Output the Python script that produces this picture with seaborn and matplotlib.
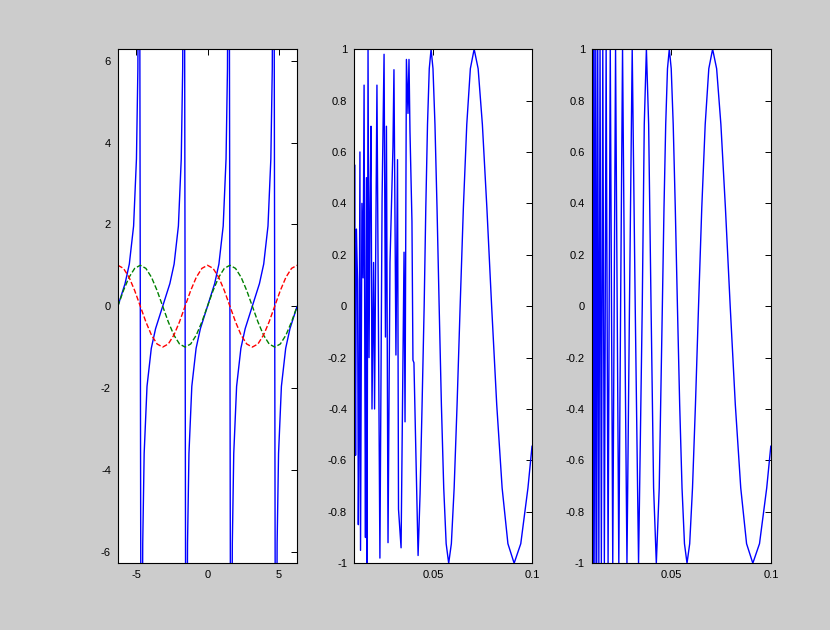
import numpy as np
import pandas as pd
import matplotlib
matplotlib.use("Agg")
import matplotlib.pyplot as plt
import seaborn as sns

# ---- left panel: tan, sin, cos on [-2pi, 2pi] ----
tan_x = [-6.283, -5.78, -5.48, -5.18, -4.98, -4.88, -4.78,
         -4.64, -4.54, -4.44, -4.24, -3.94, -3.64, -3.14, -2.64, -2.34, -2.04, -1.84, -1.74, -1.64,
         -1.50, -1.40, -1.30, -1.10, -0.80, -0.50, 0.0, 0.50, 0.80, 1.10, 1.30, 1.40, 1.50,
         1.64, 1.74, 1.84, 2.04, 2.34, 2.64, 3.14, 3.64, 3.94, 4.24, 4.44, 4.54, 4.64,
         4.78, 4.88, 4.98, 5.18, 5.48, 5.78, 6.283]
tan_y = [0.0, 0.55, 1.03, 1.96, 3.60, 5.80, 14.1,
         -14.1, -5.80, -3.60, -1.96, -1.03, -0.55, 0.0, 0.55, 1.03, 1.96, 3.60, 5.80, 14.1,
         -14.1, -5.80, -3.60, -1.96, -1.03, -0.55, 0.0, 0.55, 1.03, 1.96, 3.60, 5.80, 14.1,
         -14.1, -5.80, -3.60, -1.96, -1.03, -0.55, 0.0, 0.55, 1.03, 1.96, 3.60, 5.80, 14.1,
         -14.1, -5.80, -3.60, -1.96, -1.03, -0.55, 0.0]

trig_x = [-6.283, -5.890, -5.498, -5.105, -4.712, -4.320, -3.927, -3.534,
          -3.142, -2.749, -2.356, -1.963, -1.571, -1.178, -0.785, -0.393,
          0.0, 0.393, 0.785, 1.178, 1.571, 1.963, 2.356, 2.749,
          3.142, 3.534, 3.927, 4.320, 4.712, 5.105, 5.498, 5.890, 6.283]
sin_y = [0, .383, .707, .924, 1, .924, .707, .383, 0, -.383, -.707, -.924, -1, -.924, -.707, -.383,
         0, .383, .707, .924, 1, .924, .707, .383, 0, -.383, -.707, -.924, -1, -.924, -.707, -.383, 0]
cos_y = [1, .924, .707, .383, 0, -.383, -.707, -.924, -1, -.924, -.707, -.383, 0, .383, .707, .924,
         1, .924, .707, .383, 0, -.383, -.707, -.924, -1, -.924, -.707, -.383, 0, .383, .707, .924, 1]

# ---- middle panel: sin(1/x), coarse sampling (aliased on the left) ----
coarse_x = [0.0100, 0.0103, 0.0105, 0.0108, 0.0112, 0.0118, 0.0122, 0.0125, 0.0130, 0.0133,
            0.0140, 0.0146, 0.0151, 0.0155, 0.0158, 0.0163, 0.0166, 0.0171, 0.0176, 0.0181,
            0.0186, 0.0191, 0.0199, 0.0204, 0.0216, 0.0231, 0.0242, 0.0252, 0.0259,
            0.0264, 0.0272, 0.0282, 0.0297, 0.0302, 0.0312, 0.0320, 0.0325, 0.0338, 0.0353,
            0.0358, 0.0365, 0.0373, 0.0378, 0.0383, 0.0393, 0.0398, 0.0403, 0.0424, 0.0434,
            0.0444, 0.04547, 0.04630, 0.04716, 0.04805, 0.04897, 0.04993, 0.05093, 0.05197,
            0.05305, 0.05418, 0.05536, 0.05659, 0.05787, 0.05922, 0.06063, 0.06211, 0.06366,
            0.06529, 0.06701, 0.06882, 0.07074, 0.07276, 0.07490, 0.07717, 0.07958, 0.08215,
            0.08488, 0.08781, 0.09095, 0.09431, 0.09794, 0.1000]
coarse_y = [-0.51, 0.55, -0.06, -0.58, 0.30, 0.10, -0.85, -0.55, 0.60, -0.95,
            0.40, 0.11, 0.86, -0.30, -0.90, 0.50, -1.0, 1.0, -0.20, 0.40,
            0.70, -0.40, 0.17, -0.40, 0.86, -0.98, 0.42, 0.98, -0.12,
            0.70, -0.92, 0.17, 0.62, 0.92, -0.19, 0.57, -0.79, -0.94, 0.21,
            -0.45, 0.96, 0.75, 0.96, 0.68, 0.33, -0.21, -0.22, -0.97, -0.73,
            -0.39, 0.0, .383, .707, .924, 1, .924, .707, .383,
            0, -.383, -.707, -.924, -1, -.924, -.707, -.383, 0,
            .383, .707, .924, 1, .924, .707, .383, 0, -.383,
            -.707, -.924, -1, -.924, -.707, -0.544]

# ---- right panel: sin(1/x), fine sampling ----
fine_x = [0.0100, 0.01011, 0.01044, 0.01079, 0.01117, 0.01158, 0.01201, 0.01248, 0.01299,
          0.01355, 0.01415, 0.01481, 0.01553, 0.01632, 0.01721, 0.01819, 0.01929, 0.02054,
          0.02195, 0.02358, 0.02449, 0.02546, 0.02653, 0.02768, 0.02894, 0.03032, 0.03183,
          0.03351, 0.03537, 0.03638, 0.03745, 0.03858, 0.03979, 0.04107, 0.04244, 0.04390,
          0.04547, 0.04630, 0.04716, 0.04805, 0.04897, 0.04993, 0.05093, 0.05197,
          0.05305, 0.05418, 0.05536, 0.05659, 0.05787, 0.05922, 0.06063, 0.06211, 0.06366,
          0.06529, 0.06701, 0.06882, 0.07074, 0.07276, 0.07490, 0.07717, 0.07958, 0.08215,
          0.08488, 0.08781, 0.09095, 0.09431, 0.09794, 0.1000]
fine_y = [-0.506, -1, 1, -1, 1, -1, 1, -1, 1,
          -1, 1, -1, 1, -1, 1, -1, 1, -1,
          1, -1, 0, 1, 0, -1, 0, 1, 0,
          -1, 0, .707, 1, .707, 0, -.707, -1, -.707,
          0, .383, .707, .924, 1, .924, .707, .383,
          0, -.383, -.707, -.924, -1, -.924, -.707, -.383, 0,
          .383, .707, .924, 1, .924, .707, .383, 0, -.383,
          -.707, -.924, -1, -.924, -.707, -0.544]

sns.set_theme(style="white")
plt.rcParams['font.family'] = ['Liberation Sans', 'DejaVu Sans']
plt.rcParams.update({
    'xtick.direction': 'in', 'ytick.direction': 'in',
    'xtick.top': True, 'ytick.right': True,
    'xtick.major.size': 4, 'ytick.major.size': 4,
    'xtick.major.width': 0.7, 'ytick.major.width': 0.7,
    'xtick.color': 'black', 'ytick.color': 'black',
    'xtick.labelsize': 8, 'ytick.labelsize': 8,
    'axes.edgecolor': 'black', 'axes.linewidth': 0.8,
    'axes.unicode_minus': False,
})

fig = plt.figure(figsize=(8.3, 6.3), dpi=100, facecolor='#cccccc')
ax1 = fig.add_axes([0.142, 0.106, 0.216, 0.816])
ax2 = fig.add_axes([0.4265, 0.106, 0.2145, 0.816])
ax3 = fig.add_axes([0.713, 0.106, 0.2157, 0.816])

lw = 1.0
blue, green, red = '#0000ff', '#008000', '#ff0000'

sns.lineplot(x=tan_x, y=tan_y, ax=ax1, color=blue, lw=lw, sort=False, estimator=None)
sns.lineplot(x=trig_x, y=sin_y, ax=ax1, color=green, lw=lw, ls='--', sort=False, estimator=None)
sns.lineplot(x=trig_x, y=cos_y, ax=ax1, color=red, lw=lw, ls='--', sort=False, estimator=None)
ax1.set_xlim(-2 * np.pi, 2 * np.pi)
ax1.set_ylim(-2 * np.pi, 2 * np.pi)
ax1.set_xticks([-5, 0, 5])
ax1.set_yticks([-6, -4, -2, 0, 2, 4, 6])

sns.lineplot(x=coarse_x, y=coarse_y, ax=ax2, color=blue, lw=lw, sort=False, estimator=None)
sns.lineplot(x=fine_x, y=fine_y, ax=ax3, color=blue, lw=lw, sort=False, estimator=None)

for ax in (ax2, ax3):
    ax.set_xlim(0.01, 0.1)
    ax.set_ylim(-1, 1)
    ax.set_xticks([0.05, 0.1])
    ax.set_xticklabels(['0.05', '0.1'])
    ax.set_yticks(np.round(np.arange(-1, 1.01, 0.2), 1))
    ax.set_yticklabels(['-1', '-0.8', '-0.6', '-0.4', '-0.2', '0', '0.2', '0.4', '0.6', '0.8', '1'])

for ax in (ax1, ax2, ax3):
    ax.set_facecolor('white')
    ax.tick_params(pad=5)
    for s in ax.spines.values():
        s.set_visible(True)

fig.savefig('out.png', dpi=100, facecolor=fig.get_facecolor())
